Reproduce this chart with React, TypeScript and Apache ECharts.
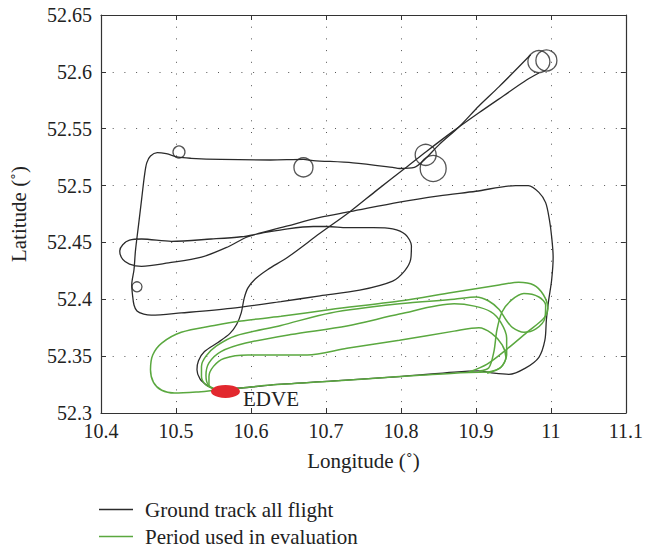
import React, { useEffect, useRef } from 'react';
import * as echarts from 'echarts';

// ---- tick labels ----
const xTickLabels = ['10.4', '10.5', '10.6', '10.7', '10.8', '10.9', '11', '11.1'];
const yTickLabels = ['52.3', '52.35', '52.4', '52.45', '52.5', '52.55', '52.6', '52.65'];

// ---- ground track (lon, lat) ----
// climb-out from EDVE, diagonal to the north-east holding
const trackOutbound: number[][] = [
  [10.552, 52.321], [10.542, 52.324], [10.532, 52.330], [10.528, 52.338], [10.530, 52.346],
  [10.538, 52.354], [10.556, 52.362], [10.572, 52.370], [10.581, 52.378], [10.587, 52.388],
  [10.591, 52.401], [10.596, 52.410], [10.606, 52.418], [10.622, 52.426], [10.649, 52.437],
  [10.692, 52.458], [10.732, 52.477], [10.768, 52.496], [10.805, 52.515], [10.834, 52.530],
  [10.868, 52.547], [10.904, 52.564], [10.937, 52.579], [10.968, 52.593], [10.984, 52.599],
];

// rest of the flight after the north-east holding
const trackMain: number[][] = [
  [10.973, 52.615], [10.931, 52.587], [10.904, 52.570], [10.878, 52.552], [10.851, 52.536],
  [10.831, 52.5225], [10.818, 52.516], [10.798, 52.515], [10.789, 52.516], [10.736, 52.520],
  [10.683, 52.522], [10.670, 52.523], [10.626, 52.5225], [10.560, 52.523], [10.520, 52.524],
  [10.503, 52.525], [10.487, 52.528], [10.475, 52.529], [10.466, 52.526], [10.461, 52.520],
  [10.458, 52.509], [10.454, 52.487], [10.450, 52.465], [10.446, 52.443], [10.444, 52.426],
  [10.441, 52.4126], [10.442, 52.404], [10.444, 52.395], [10.448, 52.3897], [10.457, 52.387],
  [10.467, 52.386], [10.507, 52.388], [10.573, 52.392], [10.640, 52.398], [10.692, 52.403],
  [10.745, 52.408], [10.789, 52.416], [10.805, 52.425], [10.813, 52.435], [10.814, 52.447],
  [10.806, 52.457], [10.789, 52.462], [10.763, 52.463], [10.728, 52.463], [10.702, 52.464],
  [10.683, 52.464], [10.649, 52.462], [10.613, 52.458], [10.587, 52.455], [10.547, 52.453],
  [10.494, 52.451], [10.454, 52.453], [10.438, 52.452], [10.429, 52.448], [10.425, 52.4425],
  [10.429, 52.435], [10.438, 52.431], [10.454, 52.429], [10.490, 52.432], [10.534, 52.437],
  [10.569, 52.446], [10.596, 52.455], [10.649, 52.4645], [10.692, 52.472], [10.732, 52.477],
  [10.798, 52.4855], [10.851, 52.491], [10.900, 52.495], [10.953, 52.500], [10.970, 52.500],
  [10.984, 52.494], [10.993, 52.485], [10.998, 52.470], [11.001, 52.455], [11.003, 52.437],
  [11.001, 52.417], [10.997, 52.399], [10.994, 52.382], [10.992, 52.364], [10.984, 52.349],
  [10.966, 52.3395], [10.944, 52.334], [10.924, 52.335], [10.904, 52.337], [10.871, 52.336],
  [10.798, 52.332], [10.706, 52.328], [10.626, 52.3246], [10.587, 52.322], [10.552, 52.321],
];

// holding orbits (centres)
const orbitCenters: number[][] = [
  [10.984, 52.609], [10.994, 52.610], [10.833, 52.527], [10.843, 52.515],
  [10.670, 52.516], [10.504, 52.5295], [10.448, 52.411],
];
const orbitDiameters = [22, 21, 21, 26, 19, 12, 10];

// ---- evaluation period (lon, lat) ----
const evalLap1: number[][] = [
  [10.920, 52.336], [10.871, 52.335], [10.798, 52.332], [10.706, 52.328], [10.626, 52.3246],
  [10.587, 52.322], [10.552, 52.320], [10.527, 52.3185], [10.498, 52.3176], [10.481, 52.320],
  [10.470, 52.327], [10.466, 52.338], [10.469, 52.351], [10.481, 52.3615], [10.507, 52.371],
  [10.551, 52.377], [10.587, 52.381], [10.640, 52.385], [10.706, 52.391], [10.798, 52.3985],
  [10.868, 52.406], [10.931, 52.4126], [10.957, 52.415], [10.977, 52.4126], [10.990, 52.404],
  [10.996, 52.392], [10.990, 52.383], [10.970, 52.372], [10.941, 52.356], [10.915, 52.343],
  [10.891, 52.336],
];
const evalLap2: number[][] = [
  [10.552, 52.321], [10.540, 52.3246], [10.534, 52.332], [10.534, 52.341], [10.540, 52.350],
  [10.554, 52.359], [10.580, 52.368], [10.640, 52.377], [10.706, 52.388], [10.798, 52.396],
  [10.871, 52.400], [10.900, 52.402], [10.917, 52.3985], [10.931, 52.391], [10.940, 52.382],
  [10.949, 52.375], [10.964, 52.371], [10.980, 52.374], [10.992, 52.3835], [10.993, 52.395],
  [10.984, 52.402], [10.964, 52.405], [10.947, 52.399], [10.935, 52.389], [10.928, 52.373],
  [10.924, 52.354], [10.917, 52.3395], [10.904, 52.337],
];
const evalLap3: number[][] = [
  [10.552, 52.321], [10.543, 52.3246], [10.540, 52.333], [10.544, 52.344], [10.560, 52.354],
  [10.593, 52.3615], [10.653, 52.369], [10.728, 52.3765], [10.798, 52.387], [10.871, 52.396],
  [10.898, 52.394], [10.920, 52.389], [10.933, 52.380], [10.941, 52.366], [10.941, 52.351],
  [10.933, 52.340], [10.915, 52.335],
];
const evalLap4: number[][] = [
  [10.552, 52.321], [10.544, 52.324], [10.544, 52.332], [10.550, 52.341], [10.564, 52.348],
  [10.596, 52.351], [10.675, 52.351], [10.728, 52.357], [10.798, 52.364], [10.871, 52.372],
  [10.904, 52.375], [10.921, 52.370], [10.935, 52.360], [10.940, 52.349], [10.933, 52.340],
  [10.917, 52.336],
];

const airfield = { name: 'EDVE', value: [10.566, 52.319] };

const SERIES_TRACK = 'Ground track all flight';
const SERIES_EVAL = 'Period used in evaluation';

const FONT = "'Liberation Serif', 'DejaVu Serif', serif";
const BLACK = '#2b2b2b';
const GREEN = '#5aa83f';
const RED = '#e2282e';

export default function App() {
  const ref = useRef<HTMLDivElement>(null);

  useEffect(() => {
    if (!ref.current) return;
    const chart = echarts.init(ref.current, null, { renderer: 'svg' });

    const xFmt = (v: number) => xTickLabels[Math.round((v - 10.4) / 0.1)] ?? '';
    const yFmt = (v: number) => yTickLabels[Math.round((v - 52.3) / 0.05)] ?? '';

    const axisLine = { show: true, onZero: false, lineStyle: { color: '#333', width: 1.2 } };
    const axisTick = { show: true, inside: true, length: 5, lineStyle: { color: '#333', width: 1 } };
    const tickStyle = { fontFamily: FONT, fontSize: 20, color: '#222' };
    const textStyle = { fontFamily: FONT, fontSize: 21, color: '#222' };
    const splitLine = { show: true, lineStyle: { color: '#555', width: 1, type: [1, 10.7] } };

    const lineSeries = (name: string, data: number[][], color: string, width: number, z: number) => ({
      type: 'line',
      name,
      data,
      smooth: 0.3,
      showSymbol: false,
      symbol: 'none',
      silent: true,
      z,
      itemStyle: { color },
      lineStyle: { color, width },
    });

    const option: any = {
      animation: false,
      backgroundColor: '#fff',
      grid: { left: 99, right: 18, top: 15, bottom: 137, containLabel: false },
      legend: {
        data: [SERIES_TRACK, SERIES_EVAL],
        orient: 'vertical',
        left: 99,
        top: 499,
        height: 60,
        icon: 'rect',
        itemWidth: 34,
        itemHeight: 1.5,
        itemGap: 6,
        padding: 0,
        selectedMode: false,
        textStyle: { ...textStyle, lineHeight: 20, padding: [0, 0, 0, 7] },
      },
      xAxis: [
        {
          type: 'value', position: 'bottom', min: 10.4, max: 11.1, interval: 0.1,
          name: 'Longitude (˚)', nameLocation: 'middle', nameGap: 37,
          nameTextStyle: { ...textStyle },
          axisLine, axisTick,
          axisLabel: { ...tickStyle, margin: 8, formatter: xFmt },
          splitLine,
        },
        {
          type: 'value', position: 'top', min: 10.4, max: 11.1, interval: 0.1,
          axisLine, axisTick, axisLabel: { show: false }, splitLine: { show: false },
        },
      ],
      yAxis: [
        {
          type: 'value', position: 'left', min: 52.3, max: 52.65, interval: 0.05,
          name: 'Latitude (˚)', nameLocation: 'middle', nameGap: 72,
          nameTextStyle: { ...textStyle },
          axisLine, axisTick,
          axisLabel: { ...tickStyle, margin: 9, formatter: yFmt },
          splitLine,
        },
        {
          type: 'value', position: 'right', min: 52.3, max: 52.65, interval: 0.05,
          axisLine, axisTick, axisLabel: { show: false }, splitLine: { show: false },
        },
      ],
      series: [
        lineSeries(SERIES_TRACK, trackOutbound, BLACK, 1.3, 2),
        lineSeries(SERIES_TRACK, trackMain, BLACK, 1.3, 2),
        {
          type: 'scatter',
          name: 'orbits',
          silent: true,
          z: 2,
          data: orbitCenters.map((c, i) => ({ value: c, symbolSize: orbitDiameters[i] })),
          symbol: 'circle',
          itemStyle: { color: 'rgba(0,0,0,0)', borderColor: BLACK, borderWidth: 1.3 },
        },
        lineSeries(SERIES_EVAL, evalLap1, GREEN, 1.5, 3),
        lineSeries(SERIES_EVAL, evalLap2, GREEN, 1.5, 3),
        lineSeries(SERIES_EVAL, evalLap3, GREEN, 1.5, 3),
        lineSeries(SERIES_EVAL, evalLap4, GREEN, 1.5, 3),
        {
          type: 'scatter',
          name: 'airfield',
          silent: true,
          z: 5,
          data: [airfield],
          symbol: 'circle',
          symbolSize: [29, 13],
          itemStyle: { color: RED, opacity: 1 },
          label: {
            show: true,
            formatter: '{b}',
            position: 'right',
            distance: 3,
            offset: [0, 8],
            ...textStyle,
          },
        },
      ],
    };

    chart.setOption(option);
    return () => chart.dispose();
  }, []);

  return (
    <div
      ref={ref}
      style={{ position: 'fixed', left: 0, top: 0, width: 646, height: 550, background: '#fff' }}
    />
  );
}
